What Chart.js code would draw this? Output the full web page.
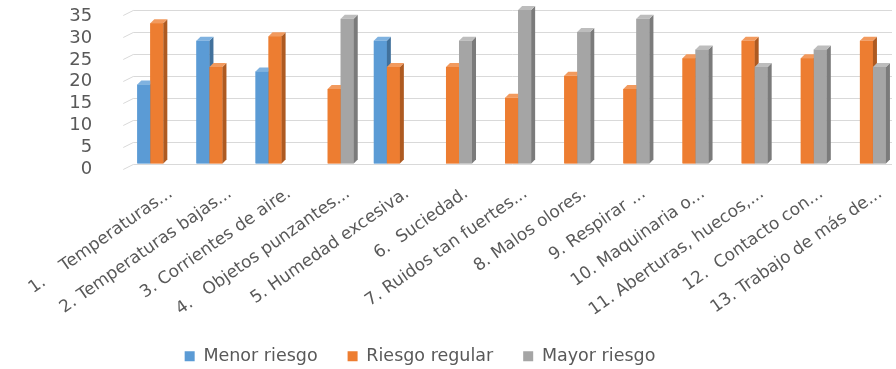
<!DOCTYPE html>
<html>
<head>
<meta charset="utf-8">
<script src="https://cdn.jsdelivr.net/npm/chart.js@4/dist/chart.umd.min.js"></script>
<style>
  html, body { margin: 0; padding: 0; background: #fff; }
  #wrap { width: 896px; height: 369px; }
</style>
</head>
<body>
<div id="wrap"><canvas id="riesgoChart" width="896" height="369"></canvas></div>
<script>
const categories = [
    '1.    Temperaturas...',
    '2. Temperaturas bajas...',
    '3. Corrientes de aire.',
    '4.   Objetos punzantes...',
    '5. Humedad excesiva.',
    '6.  Suciedad.',
    '7. Ruidos tan fuertes...',
    '8. Malos olores.',
    '9. Respirar ...',
    '10. Maquinaria o...',
    '11. Aberturas, huecos,...',
    '12.  Contacto con...',
    '13. Trabajo de más de...'
];
const menorRiesgo   = [18, 28, 21, 0, 28, 0, 0, 0, 0, 0, 0, 0, 0];
const riesgoRegular = [32, 22, 29, 17, 22, 22, 15, 20, 17, 24, 28, 24, 28];
const mayorRiesgo   = [0, 0, 0, 33, 0, 28, 35, 30, 33, 26, 22, 26, 22];
const yTicks = [0, 5, 10, 15, 20, 25, 30, 35];

const frontColors = ['#5B9BD5', '#ED7D31', '#A5A5A5'];
const sideColors  = ['#41719C', '#AE5A21', '#7B7B7B'];
const topColors   = ['#7FB2E0', '#F29A5E', '#BDBDBD'];
const DEPTH = 4;
const LEGEND_SHIFT = 28;

// back-wall gridlines with a short slanted foot on the left (floor edge)
const wallGrid = {
    id: 'wallGrid',
    beforeDatasetsDraw(chart) {
        const { ctx, chartArea, scales } = chart;
        ctx.save();
        ctx.strokeStyle = '#D9D9D9';
        ctx.lineWidth = 1;
        yTicks.forEach(v => {
            const y = Math.round(scales.y.getPixelForValue(v)) + 0.5;
            ctx.beginPath();
            ctx.moveTo(chartArea.left - 4, y + 5);
            ctx.lineTo(chartArea.left + 6, y);
            ctx.lineTo(chartArea.right - 4, y);
            ctx.stroke();
        });
        ctx.restore();
    }
};

// redraw bars in dataset order with a side and top face so they look extruded
const barDepth = {
    id: 'barDepth',
    afterDatasetsDraw(chart) {
        const ctx = chart.ctx;
        ctx.save();
        chart.data.datasets.forEach((ds, i) => {
            const meta = chart.getDatasetMeta(i);
            meta.data.forEach((bar, j) => {
                if (!ds.data[j]) return;
                const { x, y, base, width } = bar.getProps(['x', 'y', 'base', 'width'], true);
                const left = x - width / 2, right = x + width / 2;
                ctx.fillStyle = frontColors[i];
                ctx.fillRect(left, y, width, base - y);
                ctx.fillStyle = sideColors[i];
                ctx.beginPath();
                ctx.moveTo(right, y);
                ctx.lineTo(right + DEPTH, y - DEPTH);
                ctx.lineTo(right + DEPTH, base - DEPTH);
                ctx.lineTo(right, base);
                ctx.closePath();
                ctx.fill();
                ctx.fillStyle = topColors[i];
                ctx.beginPath();
                ctx.moveTo(left, y);
                ctx.lineTo(left + DEPTH, y - DEPTH);
                ctx.lineTo(right + DEPTH, y - DEPTH);
                ctx.lineTo(right, y);
                ctx.closePath();
                ctx.fill();
            });
        });
        ctx.restore();
    }
};

// nudge the legend row a little to the left of the canvas centre
const legendNudge = {
    id: 'legendNudge',
    afterLayout(chart) {
        chart.legend.left = -LEGEND_SHIFT;
        chart.legend.right = chart.width - LEGEND_SHIFT;
    }
};

const fontFamily = "'DejaVu Sans', sans-serif";

new Chart(document.getElementById('riesgoChart').getContext('2d'), {
    type: 'bar',
    data: {
        labels: categories,
        datasets: [
            { label: 'Menor riesgo', data: menorRiesgo, backgroundColor: frontColors[0] },
            { label: 'Riesgo regular', data: riesgoRegular, backgroundColor: frontColors[1] },
            { label: 'Mayor riesgo', data: mayorRiesgo, backgroundColor: frontColors[2] }
        ]
    },
    options: {
        responsive: false,
        animation: false,
        categoryPercentage: 0.66,
        barPercentage: 1,
        layout: { padding: { top: 10, right: 0, left: 0, bottom: -6 } },
        scales: {
            x: {
                grid: { display: false },
                border: { display: false },
                ticks: {
                    color: '#595959',
                    font: { family: fontFamily, size: 17 },
                    minRotation: 35,
                    maxRotation: 35,
                    autoSkip: false,
                    labelOffset: 14,
                    padding: 12
                },
                afterFit(scale) { scale.height = 154; }
            },
            y: {
                min: 0,
                max: 35,
                afterBuildTicks(scale) { scale.ticks = yTicks.map(v => ({ value: v })); },
                grid: { display: false },
                border: { display: false },
                ticks: {
                    color: '#595959',
                    font: { family: fontFamily, size: 18 },
                    autoSkip: false,
                    labelOffset: 6,
                    padding: 27
                },
                afterFit(scale) {
                    scale.width = 125;
                    scale.paddingTop = 0;
                    scale.paddingBottom = 0;
                }
            }
        },
        plugins: {
            legend: {
                position: 'bottom',
                labels: {
                    color: '#595959',
                    font: { family: fontFamily, size: 17.5 },
                    boxWidth: 10,
                    boxHeight: 10,
                    padding: 30
                }
            },
            tooltip: { enabled: false }
        }
    },
    plugins: [wallGrid, barDepth, legendNudge]
});
</script>
</body>
</html>
